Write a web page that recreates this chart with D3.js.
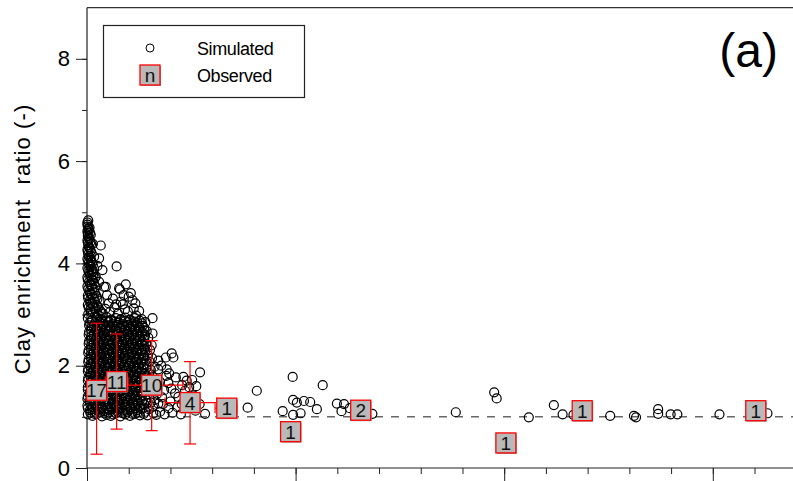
<!DOCTYPE html>
<html><head><meta charset="utf-8">
<script src="https://cdn.jsdelivr.net/npm/d3@7"></script>
<style>html,body{margin:0;padding:0;background:#fff;}text{font-family:"Liberation Sans",Arial,sans-serif;}</style>
</head><body><div id="chart"></div>
<script>
// ---- data ----
const yTicks = [0, 2, 4, 6, 8];
const yLabel = "Clay enrichment  ratio (-)";
const panelLabel = "(a)";
const legendLabels = ["Simulated", "Observed"];

// simulated points [x, y]
const simDense = [
[0.02,1.05],[0.13,1.02],[0.24,1.06],[0.36,1.01],[0.47,1.04],[0.57,1.02],[0.69,1.07],[0.80,1.01],[0.92,1.05],[1.03,1.02],[1.15,1.06],[1.27,1.03],
[0.07,1.13],[0.19,1.10],[0.30,1.15],[0.41,1.11],[0.53,1.14],[0.64,1.10],[0.75,1.15],[0.86,1.12],[0.97,1.14],[1.09,1.10],[1.21,1.13],[1.33,1.16],
[0.01,1.22],[0.12,1.19],[0.24,1.23],[0.35,1.20],[0.46,1.24],[0.58,1.19],[0.70,1.22],[0.81,1.20],[0.92,1.24],[1.04,1.19],[1.16,1.22],[1.28,1.21],
[0.06,1.31],[0.17,1.28],[0.29,1.32],[0.40,1.29],[0.52,1.33],[0.63,1.28],[0.74,1.31],[0.86,1.29],[0.98,1.33],[1.09,1.28],[1.20,1.31],[1.32,1.30],
[0.02,1.40],[0.13,1.37],[0.25,1.41],[0.36,1.38],[0.47,1.42],[0.59,1.37],[0.70,1.40],[0.82,1.38],[0.93,1.41],[1.04,1.37],[1.16,1.40],[1.27,1.39],
[0.07,1.49],[0.18,1.46],[0.30,1.50],[0.41,1.47],[0.53,1.51],[0.64,1.46],[0.76,1.49],[0.87,1.47],[0.99,1.50],[1.10,1.46],[1.22,1.49],[1.35,1.48],
[0.02,1.58],[0.14,1.55],[0.25,1.59],[0.37,1.56],[0.48,1.60],[0.59,1.55],[0.71,1.58],[0.82,1.56],[0.94,1.59],[1.05,1.55],[1.17,1.58],[1.29,1.57],
[0.08,1.67],[0.19,1.64],[0.31,1.68],[0.42,1.65],[0.54,1.69],[0.65,1.64],[0.77,1.67],[0.88,1.65],[0.99,1.68],[1.11,1.64],[1.23,1.67],[1.36,1.66],
[0.03,1.76],[0.14,1.73],[0.26,1.77],[0.37,1.74],[0.49,1.78],[0.60,1.73],[0.72,1.76],[0.83,1.74],[0.95,1.77],[1.06,1.73],[1.18,1.76],[1.30,1.75],
[0.08,1.85],[0.20,1.82],[0.31,1.86],[0.43,1.83],[0.54,1.87],[0.66,1.82],[0.77,1.85],[0.89,1.83],[1.00,1.86],[1.12,1.82],[1.24,1.85],[1.37,1.84],
[0.03,1.94],[0.15,1.91],[0.26,1.95],[0.38,1.92],[0.49,1.96],[0.61,1.91],[0.72,1.94],[0.84,1.92],[0.95,1.95],[1.07,1.91],[1.19,1.94],[1.31,1.93],
[0.09,2.03],[0.20,2.00],[0.32,2.04],[0.43,2.01],[0.55,2.05],[0.66,2.00],[0.78,2.03],[0.89,2.01],[1.01,2.04],[1.12,2.00],[1.24,2.03],[1.36,2.02],
[0.04,2.12],[0.15,2.09],[0.27,2.13],[0.38,2.10],[0.50,2.14],[0.61,2.09],[0.73,2.12],[0.84,2.10],[0.96,2.13],[1.07,2.09],[1.19,2.12],[1.31,2.11],
[0.09,2.21],[0.21,2.18],[0.32,2.22],[0.44,2.19],[0.55,2.23],[0.67,2.18],[0.78,2.21],[0.90,2.19],[1.01,2.22],[1.13,2.18],[1.25,2.21],[1.37,2.20],
[0.04,2.30],[0.16,2.27],[0.27,2.31],[0.39,2.28],[0.50,2.32],[0.62,2.27],[0.73,2.30],[0.85,2.28],[0.96,2.31],[1.08,2.27],[1.20,2.30],[1.32,2.29],
[0.10,2.39],[0.21,2.36],[0.33,2.40],[0.44,2.37],[0.56,2.41],[0.67,2.36],[0.79,2.39],[0.90,2.37],[1.02,2.40],[1.13,2.36],[1.25,2.39],[1.38,2.38],
[0.05,2.48],[0.16,2.45],[0.28,2.49],[0.39,2.46],[0.51,2.50],[0.62,2.45],[0.74,2.48],[0.85,2.46],[0.97,2.49],[1.08,2.45],[1.20,2.48],[1.32,2.47],
[0.10,2.57],[0.22,2.54],[0.33,2.58],[0.45,2.55],[0.56,2.59],[0.68,2.54],[0.79,2.57],[0.91,2.55],[1.02,2.58],[1.14,2.54],[1.26,2.57],[1.38,2.56],
[0.05,2.66],[0.17,2.63],[0.28,2.67],[0.40,2.64],[0.51,2.68],[0.63,2.63],[0.74,2.66],[0.86,2.64],[0.97,2.67],[1.09,2.63],[1.21,2.66],[1.33,2.65],
[0.11,2.75],[0.22,2.72],[0.34,2.76],[0.45,2.73],[0.57,2.77],[0.68,2.72],[0.80,2.75],[0.91,2.73],[1.03,2.76],[1.14,2.72],[1.26,2.75],[1.37,2.74],
[0.06,2.84],[0.17,2.81],[0.29,2.85],[0.40,2.82],[0.52,2.86],[0.63,2.81],[0.75,2.84],[0.86,2.82],[0.98,2.85],[1.10,2.81],[1.21,2.84],[1.32,2.83],
[0.02,2.93],[0.13,2.90],[0.24,2.94],[0.36,2.91],[0.47,2.95],[0.58,2.90],[0.69,2.93],[0.81,2.91],[0.92,2.94],[1.03,2.90],[1.15,2.93]
];
const simDense2 = [
[0.08,1.08],[0.18,1.06],[0.30,1.09],[0.41,1.07],[0.52,1.08],[0.63,1.05],[0.74,1.09],[0.86,1.07],[0.97,1.09],[1.09,1.06],[1.21,1.08],[1.36,1.06],
[0.02,1.17],[0.13,1.15],[0.25,1.18],[0.36,1.16],[0.47,1.17],[0.59,1.15],[0.70,1.18],[0.81,1.16],[0.92,1.18],[1.04,1.15],[1.16,1.17],[1.28,1.16],
[0.07,1.26],[0.18,1.24],[0.30,1.27],[0.41,1.25],[0.52,1.26],[0.64,1.24],[0.75,1.27],[0.86,1.25],[0.98,1.27],[1.10,1.24],[1.22,1.26],[1.37,1.25],
[0.01,1.35],[0.12,1.33],[0.24,1.36],[0.35,1.34],[0.47,1.35],[0.58,1.33],[0.69,1.36],[0.81,1.34],[0.92,1.36],[1.04,1.33],[1.15,1.35],[1.27,1.34],
[0.06,1.44],[0.18,1.42],[0.29,1.45],[0.41,1.43],[0.52,1.44],[0.64,1.42],[0.75,1.45],[0.87,1.43],[0.98,1.45],[1.10,1.42],[1.21,1.44],[1.33,1.43],
[0.02,1.53],[0.13,1.51],[0.24,1.54],[0.36,1.52],[0.47,1.53],[0.59,1.51],[0.70,1.54],[0.82,1.52],[0.93,1.54],[1.05,1.51],[1.16,1.53],[1.28,1.52],
[0.07,1.62],[0.19,1.60],[0.30,1.63],[0.42,1.61],[0.53,1.62],[0.65,1.60],[0.76,1.63],[0.88,1.61],[0.99,1.63],[1.11,1.60],[1.22,1.62],[1.34,1.61],
[0.02,1.71],[0.13,1.69],[0.25,1.72],[0.36,1.70],[0.48,1.71],[0.59,1.69],[0.71,1.72],[0.82,1.70],[0.94,1.72],[1.05,1.69],[1.17,1.71],[1.29,1.70],
[0.08,1.80],[0.19,1.78],[0.31,1.81],[0.42,1.79],[0.54,1.80],[0.65,1.78],[0.77,1.81],[0.88,1.79],[1.00,1.81],[1.11,1.78],[1.23,1.80],[1.35,1.79],
[0.02,1.89],[0.14,1.87],[0.25,1.90],[0.37,1.88],[0.48,1.89],[0.60,1.87],[0.71,1.90],[0.83,1.88],[0.94,1.90],[1.06,1.87],[1.18,1.89],[1.30,1.88],
[0.08,1.98],[0.20,1.96],[0.31,1.99],[0.43,1.97],[0.54,1.98],[0.66,1.96],[0.77,1.99],[0.89,1.97],[1.00,1.99],[1.12,1.96],[1.24,1.98],[1.36,1.97],
[0.03,2.07],[0.14,2.05],[0.26,2.08],[0.37,2.06],[0.49,2.07],[0.60,2.05],[0.72,2.08],[0.83,2.06],[0.95,2.08],[1.07,2.05],[1.18,2.07],[1.30,2.06],
[0.09,2.16],[0.20,2.14],[0.32,2.17],[0.43,2.15],[0.55,2.16],[0.66,2.14],[0.78,2.17],[0.89,2.15],[1.01,2.17],[1.13,2.14],[1.24,2.16],[1.36,2.15],
[0.03,2.25],[0.15,2.23],[0.26,2.26],[0.38,2.24],[0.49,2.25],[0.61,2.23],[0.72,2.26],[0.84,2.24],[0.96,2.26],[1.07,2.23],[1.19,2.25],[1.31,2.24],
[0.09,2.34],[0.21,2.32],[0.32,2.35],[0.44,2.33],[0.55,2.34],[0.67,2.32],[0.78,2.35],[0.90,2.33],[1.02,2.35],[1.13,2.32],[1.25,2.34],[1.37,2.33],
[0.04,2.43],[0.15,2.41],[0.27,2.44],[0.38,2.42],[0.50,2.43],[0.61,2.41],[0.73,2.44],[0.85,2.42],[0.96,2.44],[1.08,2.41],[1.20,2.43],[1.31,2.42],
[0.10,2.52],[0.21,2.50],[0.33,2.53],[0.44,2.51],[0.56,2.52],[0.67,2.50],[0.79,2.53],[0.91,2.51],[1.02,2.53],[1.14,2.50],[1.26,2.52],[1.37,2.51],
[0.04,2.61],[0.16,2.59],[0.27,2.62],[0.39,2.60],[0.50,2.61],[0.62,2.59],[0.74,2.62],[0.85,2.60],[0.97,2.62],[1.08,2.59],[1.20,2.61],[1.32,2.60],
[0.10,2.70],[0.22,2.68],[0.33,2.71],[0.45,2.69],[0.56,2.70],[0.68,2.68],[0.80,2.71],[0.91,2.69],[1.03,2.71],[1.14,2.68],[1.26,2.70],[1.38,2.69],
[0.05,2.79],[0.16,2.77],[0.28,2.80],[0.39,2.78],[0.51,2.79],[0.63,2.77],[0.74,2.80],[0.86,2.78],[0.97,2.80],[1.09,2.77],[1.21,2.79],[1.33,2.78],
[0.11,2.88],[0.22,2.86],[0.34,2.89],[0.45,2.87],[0.57,2.88],[0.68,2.86],[0.80,2.89],[0.91,2.87],[1.03,2.89],[1.15,2.86],[1.26,2.88]
];
const simColumn = [
[0.03,3.01],[0.14,3.03],[0.26,2.99],[0.38,3.02],[0.08,3.10],[0.19,3.12],[0.31,3.08],[0.44,3.11],
[0.02,3.19],[0.13,3.21],[0.24,3.18],[0.07,3.28],[0.18,3.30],[0.30,3.27],[0.02,3.37],[0.12,3.39],[0.23,3.36],
[0.06,3.46],[0.17,3.48],[0.01,3.55],[0.11,3.57],[0.21,3.54],[0.05,3.64],[0.15,3.66],[0.01,3.73],[0.10,3.75],[0.19,3.72],
[0.05,3.82],[0.14,3.84],[0.01,3.91],[0.09,3.93],[0.17,3.90],[0.04,4.00],[0.12,4.02],[0.01,4.09],[0.08,4.11],
[0.03,4.18],[0.11,4.20],[0.01,4.27],[0.07,4.29],[0.03,4.36],[0.10,4.38],[0.01,4.45],[0.06,4.47],[0.02,4.54],[0.09,4.56],
[0.01,4.63],[0.05,4.65],[0.02,4.72],[0.06,4.70],[0.01,4.80],[0.03,4.84],
[0.09,3.05],[0.21,3.06],[0.34,3.05],[0.04,3.14],[0.15,3.16],[0.27,3.14],[0.08,3.23],[0.19,3.25],[0.03,3.32],[0.14,3.33],
[0.25,3.31],[0.08,3.41],[0.19,3.42],[0.03,3.50],[0.13,3.51],[0.07,3.59],[0.17,3.61],[0.02,3.68],[0.12,3.69],[0.06,3.78],
[0.15,3.79],[0.03,3.86],[0.11,3.88],[0.06,3.96],[0.14,3.97],[0.03,4.05],[0.10,4.06],[0.05,4.14],[0.02,4.23],[0.09,4.24],
[0.05,4.32],[0.02,4.41],[0.08,4.42],[0.04,4.50],[0.02,4.59],[0.07,4.60],[0.03,4.68],[0.01,4.76]
];
const simUpper = [
[0.33,4.35],[0.71,3.94],[0.29,4.10],[0.37,3.87],[0.17,4.13],[0.93,3.59],[0.77,3.51],[1.05,3.42],[0.45,3.54],[1.09,3.28],
[0.81,3.25],[1.25,3.07],[0.21,3.74],[0.29,3.64],[0.79,3.49],[0.91,3.10],[1.31,2.91],[0.41,3.54],[0.14,4.38],[0.25,3.95],
[0.55,3.05],[0.66,3.14],[0.74,3.02],[0.86,3.20],[0.98,3.06],[1.12,3.12],[1.18,2.98],[0.52,3.22],[0.62,3.31],[1.00,3.35],
[0.88,3.38],[1.16,3.22],[0.70,3.20],[0.48,3.38]
];
const simRight = [
[1.57,2.93],[1.57,2.63],[1.51,2.31],[1.71,2.10],[1.89,2.16],[2.03,2.24],[2.07,2.16],[1.71,1.93],[1.91,1.93],[1.97,1.85],
[2.13,1.77],[2.31,1.78],[2.39,1.71],[2.71,1.87],[1.75,1.69],[1.95,1.66],[2.11,1.46],[2.19,1.39],[2.35,1.51],[2.83,1.06],
[1.95,1.17],[1.71,1.26],[1.75,1.10],[1.59,1.07],[2.27,1.25],[2.17,1.19],
[1.45,1.03],[1.48,1.15],[1.44,1.27],[1.50,1.38],[1.46,1.50],[1.52,1.62],[1.45,1.73],[1.49,1.85],[1.44,1.97],[1.50,2.08],
[1.46,2.20],[1.42,2.42],[1.47,2.55],[1.43,2.68],[1.58,1.20],[1.62,1.33],[1.57,1.45],[1.63,1.57],[1.58,1.78],[1.62,1.98],
[1.56,2.15],[1.66,1.04],[1.68,1.45],[1.80,1.38],[1.85,1.52],[1.82,1.25],[1.86,1.05],[2.00,1.30],[2.05,1.08],[1.90,1.80],
[1.78,2.00],[2.02,1.55],[2.25,1.05],[2.40,1.18],[2.48,1.30],[2.55,1.42],[2.45,1.58],[2.60,1.12],[2.70,1.25],[2.62,1.60],
[2.52,1.72],[2.28,1.62],
[1.40,1.10],[1.41,1.35],[1.42,1.60],[1.40,1.85],[1.41,2.10],[1.40,2.30],[1.39,2.60],[1.40,2.85],[1.53,1.28],[1.54,1.72],
[1.53,1.92],[1.55,2.40]
];
const simSparse = [
[3.85,1.18],[4.07,1.51],[4.69,1.11],[4.93,1.78],[4.94,1.33],[5.03,1.28],[5.20,1.31],[5.35,1.29],[4.94,1.04],[5.12,1.07],
[5.51,1.15],[5.65,1.62],[5.99,1.26],[6.16,1.25],[6.10,1.11],[6.30,1.17],[6.84,1.06],
[8.84,1.09],[9.76,1.48],[9.82,1.36],[10.59,0.99],[11.19,1.23],[11.40,1.05],[11.66,1.04],[12.54,1.02],[13.11,1.02],
[13.16,0.99],[13.69,1.15],[13.69,1.06],[13.99,1.05],[14.15,1.05],[15.16,1.05],[16.31,1.07]
];

// observed
const obsX   = [0.23, 0.71, 1.55, 2.47, 3.35, 4.88, 6.56, 10.04, 11.87, 16.03];
const obsY   = [1.52, 1.69, 1.62, 1.28, 1.17, 0.71, 1.13, 0.49, 1.12, 1.12];
const obsN   = [17, 11, 10, 4, 1, 1, 2, 1, 1, 1];
const obsYLo = [0.27, 0.76, 0.73, 0.47, null, null, 1.04, null, null, null];
const obsYHi = [2.83, 2.62, 2.49, 2.08, null, null, 1.22, null, null, null];
const obsXLo = [0.02, 0.45, 0.98, 1.87, 3.07, null, null, null, null, null];
const obsXHi = [0.45, 0.98, 2.30, 3.12, 3.60, null, null, null, null, null];
const refLine = 1;

// ---- drawing ----
const W = 793, H = 481;
const svg = d3.select("#chart").append("svg").attr("width", W).attr("height", H)
  .style("background", "#fff");

const x = d3.scaleLinear().domain([0, 17]).range([87, 87 + 17 * 41.72]);
const y = d3.scaleLinear().domain([0, 9]).range([468, 468 - 9 * 51.15]);

// top frame line
svg.append("line").attr("x1", x(0)).attr("x2", W).attr("y1", y(9)).attr("y2", y(9))
  .attr("stroke", "#333").attr("stroke-width", 1.2);

// y axis minor ticks
const yAxisMinor = d3.axisLeft(y).tickValues(d3.range(0, 9, 1)).tickSize(5).tickFormat("");
svg.append("g").attr("transform", `translate(${x(0)},0)`).call(yAxisMinor)
  .call(g => g.select(".domain").remove())
  .call(g => g.selectAll("line").attr("stroke", "#222"));
const yAxis = d3.axisLeft(y).tickValues(yTicks).tickSize(11).tickPadding(6);
svg.append("g").attr("transform", `translate(${x(0)},0)`).call(yAxis)
  .call(g => g.select(".domain").attr("stroke", "#222").attr("stroke-width", 1.2).attr("d", `M0,${y(9)}V${y(0)}`))
  .call(g => g.selectAll("line").attr("stroke", "#222"))
  .call(g => g.selectAll("text").attr("font-size", 22).attr("font-family", "Liberation Sans, Arial, sans-serif").attr("fill", "#000"));

// x axis
const xAxisMinor = d3.axisBottom(x).tickValues(d3.range(0, 18, 1)).tickSize(6).tickFormat("");
svg.append("g").attr("transform", `translate(0,${y(0)})`).call(xAxisMinor)
  .call(g => g.select(".domain").attr("stroke", "#222").attr("stroke-width", 1.2).attr("d", `M${x(0)},0H${W}`))
  .call(g => g.selectAll("line").attr("stroke", "#222"));
const xAxisMajor = d3.axisBottom(x).tickValues([0, 5, 10, 15]).tickSize(16).tickFormat("");
svg.append("g").attr("transform", `translate(0,${y(0)})`).call(xAxisMajor)
  .call(g => g.select(".domain").remove())
  .call(g => g.selectAll("line").attr("stroke", "#222"));

// reference dashed line
svg.append("line").attr("x1", x(0)).attr("x2", W).attr("y1", y(refLine)).attr("y2", y(refLine))
  .attr("stroke", "#666").attr("stroke-width", 1.5).attr("stroke-dasharray", "8,8");

// simulated
const sim = [].concat(simDense, simDense2, simColumn, simUpper, simRight, simSparse);
svg.append("g").selectAll("circle").data(sim).join("circle")
  .attr("cx", d => x(d[0])).attr("cy", d => y(d[1])).attr("r", 4.5)
  .attr("fill", "none").attr("stroke", "#000").attr("stroke-width", 1.2);

// observed error bars
const obs = obsX.map((v, i) => ({x: v, y: obsY[i], n: obsN[i], ylo: obsYLo[i], yhi: obsYHi[i], xlo: obsXLo[i], xhi: obsXHi[i]}));
const eb = svg.append("g").attr("stroke", "#f00").attr("stroke-width", 1.2).attr("fill", "none");
obs.forEach(d => {
  if (d.ylo != null) {
    eb.append("line").attr("x1", x(d.x)).attr("x2", x(d.x)).attr("y1", y(d.ylo)).attr("y2", y(d.yhi));
    [d.ylo, d.yhi].forEach(v => eb.append("line").attr("x1", x(d.x) - 6).attr("x2", x(d.x) + 6).attr("y1", y(v)).attr("y2", y(v)));
  }
  if (d.xlo != null) {
    eb.append("line").attr("x1", x(d.xlo)).attr("x2", x(d.xhi)).attr("y1", y(d.y)).attr("y2", y(d.y));
    [d.xlo, d.xhi].forEach(v => eb.append("line").attr("x1", x(v)).attr("x2", x(v)).attr("y1", y(d.y) - 5).attr("y2", y(d.y) + 5));
  }
});

function drawBox(g, cx, cy, label) {
  g.append("rect").attr("x", cx - 9).attr("y", cy - 9).attr("width", 20).attr("height", 20).attr("fill", "#9a9a9a");
  g.append("rect").attr("x", cx - 10).attr("y", cy - 10).attr("width", 20).attr("height", 20)
    .attr("fill", "#b9b9b9").attr("stroke", "#f00").attr("stroke-width", 1.3);
  g.append("text").attr("x", cx).attr("y", cy + 7).attr("text-anchor", "middle")
    .attr("font-size", 19).attr("fill", "#111").text(label);
}
const boxes = svg.append("g");
obs.forEach(d => drawBox(boxes, x(d.x), y(d.y), d.n));

// legend
const lg = svg.append("g");
lg.append("rect").attr("x", 103.5).attr("y", 25.5).attr("width", 201).attr("height", 72)
  .attr("fill", "#fff").attr("stroke", "#222").attr("stroke-width", 1.2);
lg.append("circle").attr("cx", 150).attr("cy", 48).attr("r", 4).attr("fill", "none").attr("stroke", "#000");
drawBox(lg, 150, 75, "n");
lg.append("text").attr("x", 197).attr("y", 55).attr("font-size", 18).attr("letter-spacing", -0.4).text(legendLabels[0]);
lg.append("text").attr("x", 197).attr("y", 82).attr("font-size", 18).attr("letter-spacing", -0.4).text(legendLabels[1]);

// panel label
svg.append("text").attr("x", 778).attr("y", 67).attr("text-anchor", "end").attr("font-size", 48).text(panelLabel);

// y label
svg.append("text").attr("transform", `translate(30,${239}) rotate(-90)`).attr("text-anchor", "middle")
  .attr("font-size", 22).attr("letter-spacing", 1.1).attr("xml:space", "preserve").style("white-space", "pre").text(yLabel);
</script></body></html>
